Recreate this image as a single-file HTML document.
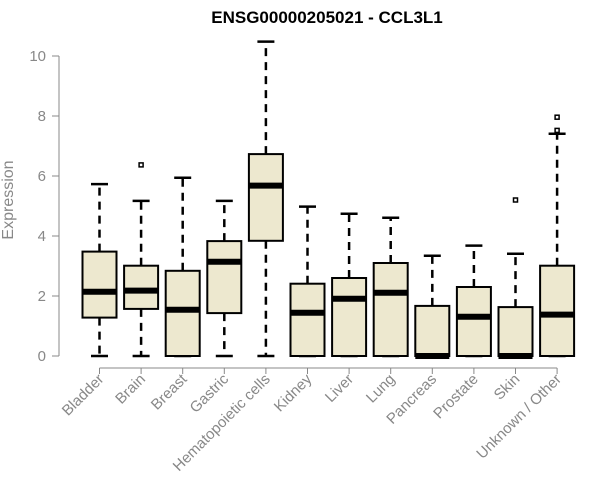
<!DOCTYPE html>
<html><head><meta charset="utf-8"><style>
html,body{margin:0;padding:0;background:#fff;}
svg{display:block;font-family:"Liberation Sans",Arial,sans-serif;}
</style></head><body>
<svg id="chart" width="600" height="500"></svg>
<script>
const categories=["Bladder","Brain","Breast","Gastric","Hematopoietic cells","Kidney","Liver","Lung","Pancreas","Prostate","Skin","Unknown / Other"];
const whiskerLow=[0,0,0,0,0,0,0,0,0,0,0,0];
const q1=[1.28,1.57,0,1.43,3.84,0,0,0,0,0,0,0];
const medians=[2.14,2.18,1.54,3.14,5.68,1.44,1.91,2.11,0,1.31,0,1.38];
const q3=[3.48,3.01,2.84,3.83,6.73,2.41,2.6,3.1,1.67,2.3,1.63,3.01];
const whiskerHigh=[5.73,5.17,5.94,5.17,10.48,4.98,4.74,4.61,3.34,3.68,3.41,7.41];
const outliers=[[],[6.37],[],[],[],[],[],[],[],[],[5.2],[7.96,7.52]];
const yTicks=[0,2,4,6,8,10];
const NS="http://www.w3.org/2000/svg";
const svg=document.getElementById('chart');
const y=v=>356-v*30;
const x=i=>99.5+i*41.6;
function el(t,a,p){const e=document.createElementNS(NS,t);for(const k in a)e.setAttribute(k,a[k]);(p||svg).appendChild(e);return e;}
const title=el('text',{x:327,y:23,'text-anchor':'middle','font-size':17,'font-weight':'bold',fill:'#000'});
title.textContent="ENSG00000205021 - CCL3L1";


const yl=el('text',{x:0,y:0,transform:'translate(13,200) rotate(-90)','text-anchor':'middle','font-size':16,fill:'#888'});
yl.textContent="Expression";


const ya=el('line',{x1:59,y1:y(0),x2:59,y2:y(10),stroke:'#888','stroke-width':1});


yTicks.forEach(t=>{
  el('line',{x1:52,y1:y(t),x2:59,y2:y(t),stroke:'#888'});
  const tl=el('text',{x:46,y:y(t)+5,'text-anchor':'end','font-size':15,fill:'#888'});
  tl.textContent=t;
  
  
});
const xa=el('line',{x1:x(0),y1:368,x2:x(categories.length-1),y2:368,stroke:'#888'});


categories.forEach((c,i)=>{
  const cx=x(i),hw=17;
  el('line',{x1:cx,y1:368,x2:cx,y2:374,stroke:'#888'});
  const g=el('g',{});
  
  
  el('line',{x1:cx,y1:y(q3[i]),x2:cx,y2:y(whiskerHigh[i]),stroke:'#000','stroke-width':2.5,'stroke-dasharray':'8,6'},g);
  el('line',{x1:cx,y1:y(q1[i]),x2:cx,y2:y(whiskerLow[i]),stroke:'#000','stroke-width':2.5,'stroke-dasharray':'8,6'},g);
  el('line',{x1:cx-8.5,y1:y(whiskerHigh[i]),x2:cx+8.5,y2:y(whiskerHigh[i]),stroke:'#000','stroke-width':2.5},g);
  el('line',{x1:cx-8.5,y1:y(whiskerLow[i]),x2:cx+8.5,y2:y(whiskerLow[i]),stroke:'#000','stroke-width':2.5},g);
  el('rect',{x:cx-hw,y:y(q3[i]),width:hw*2,height:y(q1[i])-y(q3[i]),fill:'#ede8cf',stroke:'#000','stroke-width':2},g);
  el('line',{x1:cx-hw,y1:y(medians[i]),x2:cx+hw,y2:y(medians[i]),stroke:'#000','stroke-width':6},g);
  outliers[i].forEach(o=>{el('rect',{x:cx-2,y:y(o)-2,width:4,height:4,fill:'none',stroke:'#000','stroke-width':1.5},g);});
  const lab=el('text',{x:0,y:0,transform:`translate(${cx+5},380) rotate(-45)`,'text-anchor':'end','font-size':15,fill:'#888'});
  lab.textContent=c;
  
  
});
</script>
</body></html>
